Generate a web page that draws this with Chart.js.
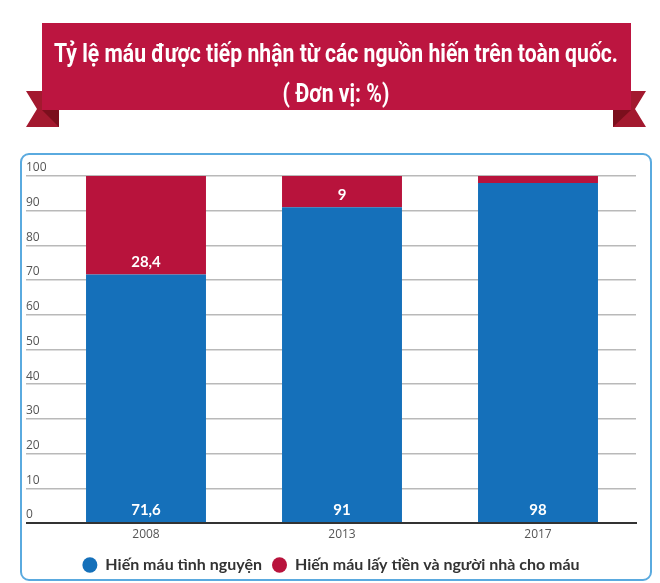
<!DOCTYPE html>
<html>
<head>
<meta charset="utf-8">
<script src="https://cdn.jsdelivr.net/npm/chart.js@4"></script>
<style>
html, body { margin: 0; padding: 0; background: #fff; }
#wrap { width: 660px; height: 583px; position: relative; }
</style>
</head>
<body>
<div id="wrap"><canvas id="bloodChart"></canvas></div>
<script>
// số liệu
const years = ['2008', '2013', '2017'];
const voluntaryValues = [71.6, 91, 98];
const paidFamilyValues = [28.4, 9, 2];
const seriesNames = ['Hiến máu tình nguyện', 'Hiến máu lấy tiền và người nhà cho máu'];
const yMin = 0;
const yMax = 100;
const yStep = 10;
const titleLines = ['Tỷ lệ máu được tiếp nhận từ các nguồn hiến trên toàn quốc.', '( Đơn vị: %)'];

const blue = '#1570ba';
const red = '#b8133c';

// nền, khung bo góc, dải ruy băng đỏ và tiêu đề
const ribbonPlugin = {
    id: 'ribbon',
    beforeDraw(chart) {
        const c = chart.ctx;
        c.save();
        c.fillStyle = '#fff';
        c.fillRect(0, 0, chart.width, chart.height);

        c.strokeStyle = '#5aaadf';
        c.lineWidth = 2;
        c.beginPath();
        c.roundRect(21, 154, 630, 426, 8);
        c.stroke();

        // đuôi ruy băng
        c.fillStyle = '#a3192f';
        c.beginPath();
        c.moveTo(26, 91); c.lineTo(59, 91); c.lineTo(59, 127); c.lineTo(26, 127); c.lineTo(37, 109);
        c.closePath(); c.fill();
        c.beginPath();
        c.moveTo(646, 91); c.lineTo(613, 91); c.lineTo(613, 127); c.lineTo(646, 127); c.lineTo(635, 109);
        c.closePath(); c.fill();

        // nếp gấp
        c.fillStyle = '#7b0f1d';
        c.beginPath();
        c.moveTo(42, 110); c.lineTo(59, 110); c.lineTo(59, 127);
        c.closePath(); c.fill();
        c.beginPath();
        c.moveTo(631, 110); c.lineTo(613, 110); c.lineTo(613, 127);
        c.closePath(); c.fill();

        c.fillStyle = '#bc1540';
        c.fillRect(42, 23, 589, 87);

        // chữ tiêu đề: kiểu chữ đậm, ép ngang cho giống font condensed
        c.fillStyle = '#fff';
        c.font = 'bold 25px Roboto';
        c.textAlign = 'center';
        c.textBaseline = 'alphabetic';
        const sx = 564 / c.measureText(titleLines[0]).width;
        titleLines.forEach((line, i) => {
            c.save();
            c.translate(336, 62 + i * 40);
            c.scale(sx, 1);
            c.fillText(line, 0, 0);
            c.restore();
        });
        c.restore();
    }
};

// nhãn giá trị màu trắng ở chân mỗi đoạn cột
const valueLabelPlugin = {
    id: 'valueLabels',
    afterDatasetsDraw(chart) {
        const c = chart.ctx;
        c.save();
        c.fillStyle = '#fff';
        c.font = 'bold 15px Lato';
        c.textAlign = 'center';
        c.textBaseline = 'middle';
        chart.data.datasets.forEach((ds, i) => {
            chart.getDatasetMeta(i).data.forEach((bar, j) => {
                const v = ds.data[j];
                if (v < 5) return; // đoạn quá mỏng, không ghi số
                c.fillText(String(v).replace('.', ','), bar.x, bar.base - 12);
            });
        });
        c.restore();
    }
};

let ctx = document.getElementById('bloodChart').getContext('2d');
let chart = new Chart(ctx, {
    type: 'bar',
    data: {
        labels: years,
        datasets: [{
            label: seriesNames[0],
            data: voluntaryValues,
            backgroundColor: blue,
            borderWidth: 0,
            categoryPercentage: 1,
            barPercentage: 0.612
        }, {
            label: seriesNames[1],
            data: paidFamilyValues,
            backgroundColor: red,
            borderWidth: 0,
            categoryPercentage: 1,
            barPercentage: 0.612
        }]
    },
    options: {
        responsive: true,
        maintainAspectRatio: false,
        animation: false,
        layout: { padding: { left: 26, right: 24, top: 176, bottom: 0 } },
        scales: {
            x: {
                stacked: true,
                grid: { display: false, drawTicks: false },
                border: { display: true, color: '#333', width: 2 },
                ticks: {
                    color: '#555',
                    padding: 6,
                    font: { family: 'Open Sans', size: 12, lineHeight: 1.0 }
                }
            },
            y: {
                stacked: true,
                min: yMin,
                max: yMax,
                border: { display: false },
                grid: {
                    color: c => (c.tick && c.tick.value === 0) ? '#333' : '#b9b9b9',
                    lineWidth: c => (c.tick && c.tick.value === 0) ? 2 : 1.5,
                    tickLength: 22
                },
                afterFit: s => { s.width = 22; },
                ticks: {
                    stepSize: yStep,
                    autoSkip: false,
                    crossAlign: 'far',
                    color: '#555',
                    font: { family: 'Open Sans', size: 12, lineHeight: 1.35 },
                    // dòng rỗng thứ hai để số nằm phía trên đường lưới
                    callback: v => [String(v), '']
                }
            }
        },
        plugins: {
            title: { display: false },
            legend: {
                position: 'bottom',
                labels: {
                    usePointStyle: true,
                    pointStyle: 'circle',
                    boxHeight: 11,
                    pointStyleWidth: 15,
                    padding: 10,
                    color: '#333',
                    font: { family: 'Lato', weight: 'bold', size: 16 }
                }
            },
            tooltip: { enabled: false }
        }
    },
    plugins: [ribbonPlugin, valueLabelPlugin]
});
</script>
</body>
</html>
